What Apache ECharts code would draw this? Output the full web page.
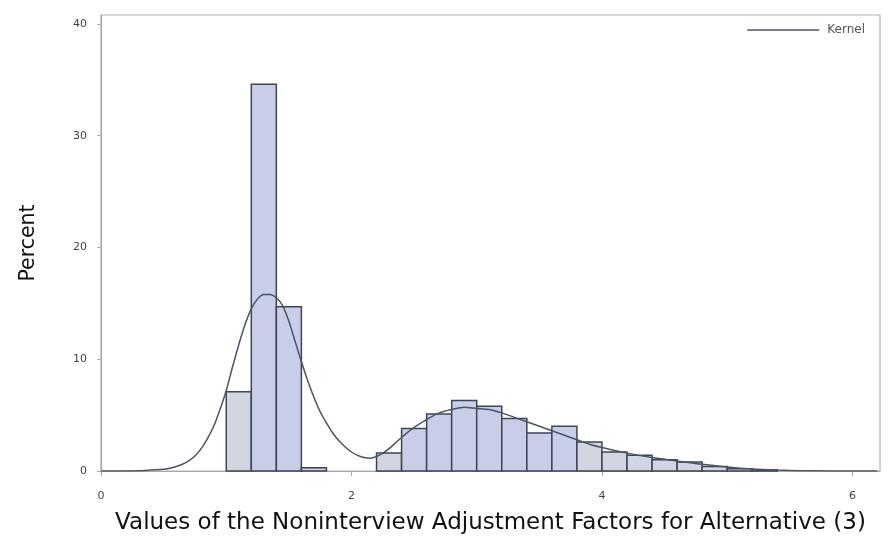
<!DOCTYPE html>
<html>
<head>
<meta charset="utf-8">
<script src="https://cdn.jsdelivr.net/npm/echarts@6/dist/echarts.min.js"></script>
<style>
  html, body { margin: 0; padding: 0; background: #fff; }
  #chart { width: 890px; height: 536px; }
</style>
</head>
<body>
<div id="chart"></div>
<script>
// Histogram bins (left edge) of the adjustment factors, bin width 0.2
const binWidth = 0.2;
const binStarts = [1.0, 1.2, 1.4, 1.6,
  2.2, 2.4, 2.6, 2.8, 3.0, 3.2, 3.4, 3.6, 3.8, 4.0, 4.2, 4.4, 4.6, 4.8, 5.0, 5.2];
const binPercents = [7.1, 34.6, 14.7, 0.3,
  1.6, 3.8, 5.1, 6.3, 5.8, 4.7, 3.4, 4.0, 2.6, 1.7, 1.4, 1.0, 0.8, 0.4, 0.2, 0.1];

// Kernel density estimate, scaled to percent
const kernelX = [0.0, 0.2, 0.35, 0.5, 0.55, 0.6, 0.65, 0.7, 0.75, 0.8, 0.85, 0.9, 0.95, 1.0, 1.05, 1.1, 1.15,
  1.2, 1.25, 1.3, 1.35, 1.4, 1.45, 1.5, 1.55, 1.6, 1.65, 1.7, 1.75, 1.8, 1.85, 1.9, 1.95, 2.0, 2.05, 2.1,
  2.15, 2.2, 2.25, 2.3, 2.35, 2.4, 2.5, 2.6, 2.7, 2.8, 2.9, 3.0, 3.1, 3.2, 3.3, 3.4, 3.5, 3.6, 3.7, 3.8,
  3.9, 4.0, 4.2, 4.4, 4.6, 4.8, 5.0, 5.2, 5.4, 5.6, 5.8, 6.0, 6.2];
const kernelY = [0.0, 0.01, 0.05, 0.15, 0.25, 0.4, 0.6, 0.9, 1.35, 2.0, 2.9, 4.0, 5.5, 7.2, 9.3, 11.3, 13.1,
  14.5, 15.4, 15.8, 15.8, 15.5, 14.8, 13.4, 11.6, 9.8, 8.1, 6.6, 5.3, 4.3, 3.4, 2.7, 2.15, 1.7, 1.4, 1.2,
  1.15, 1.3, 1.6, 2.0, 2.5, 3.0, 3.9, 4.6, 5.2, 5.5, 5.7, 5.6, 5.5, 5.2, 4.8, 4.4, 4.0, 3.6, 3.2, 2.8,
  2.4, 2.1, 1.6, 1.2, 0.9, 0.6, 0.35, 0.17, 0.08, 0.03, 0.01, 0.0, 0.0];

// Axis ticks
const xTicks = [0, 2, 4, 6];
const yTicks = [0, 10, 20, 30, 40];

const xAxisTitle = 'Values of the Noninterview Adjustment Factors for Alternative (3)';
const yAxisTitle = 'Percent';

const histData = binStarts.map((s, i) => [s, s + binWidth, binPercents[i]]);
const kernelData = kernelX.map((x, i) => [x, kernelY[i]]);

const chart = echarts.init(document.getElementById('chart'), null, { renderer: 'canvas' });

chart.setOption({
  backgroundColor: '#ffffff',
  animation: false,
  textStyle: { fontFamily: 'DejaVu Sans, Verdana, sans-serif' },
  grid: {
    left: 101, right: 10, top: 15, bottom: 65,
    containLabel: false,
    outerBoundsMode: 'none',
    show: true, borderColor: '#b4b4b4', borderWidth: 1.2, backgroundColor: '#ffffff'
  },
  legend: {
    show: true,
    right: 20, top: 19,
    orient: 'horizontal',
    icon: 'rect',
    itemWidth: 72, itemHeight: 1.5, itemGap: 8,
    textStyle: { fontSize: 12, color: '#555', fontFamily: 'DejaVu Sans, sans-serif', padding: [0, 0, 0, 3] },
    data: ['Kernel']
  },
  xAxis: {
    type: 'value', min: 0, max: 6.22, interval: 2,
    name: xAxisTitle, nameLocation: 'middle', nameGap: 41,
    nameTextStyle: { fontSize: 23, color: '#111' },
    axisLine: { show: true, lineStyle: { color: '#a8a8a8', width: 1.2 } },
    axisTick: { show: true, length: 5, lineStyle: { color: '#a8a8a8' } },
    axisLabel: {
      fontSize: 11, color: '#444', margin: 20,
      showMaxLabel: false,
      formatter: v => xTicks.includes(v) ? String(v) : ''
    },
    splitLine: { show: false }
  },
  yAxis: {
    type: 'value', min: 0, max: 40.8, interval: 10,
    name: yAxisTitle, nameLocation: 'middle', nameGap: 62, nameRotate: 90,
    nameTextStyle: { fontSize: 20.5, color: '#111' },
    axisLine: { show: true, lineStyle: { color: '#a8a8a8', width: 1.2 } },
    axisTick: { show: true, length: 4, lineStyle: { color: '#a8a8a8' } },
    axisLabel: {
      fontSize: 11, color: '#444', margin: 14,
      showMaxLabel: false,
      formatter: v => yTicks.includes(v) ? String(v) : ''
    },
    splitLine: { show: false }
  },
  series: [
    {
      name: 'Histogram',
      type: 'custom',
      data: histData,
      encode: { x: [0, 1], y: 2 },
      renderItem: function (params, api) {
        const x0 = api.value(0), x1 = api.value(1), h = api.value(2);
        const p0 = api.coord([x0, 0]);
        const p1 = api.coord([x1, h]);
        const fill = (x0 >= 3.79 || x0 < 1.1 || (x0 > 2.1 && x0 < 2.3)) ? '#d3d6e0' : '#c8cde8';
        return {
          type: 'rect',
          shape: { x: p0[0], y: p1[1], width: p1[0] - p0[0], height: p0[1] - p1[1] },
          style: { fill: fill, stroke: '#3e4458', lineWidth: 1.5 }
        };
      },
      z: 2
    },
    {
      name: 'Kernel',
      type: 'line',
      data: kernelData,
      smooth: 0.3,
      showSymbol: false,
      lineStyle: { color: '#4b5366', width: 1.5 },
      itemStyle: { color: '#4b5366' },
      z: 3
    }
  ]
});
</script>
</body>
</html>
